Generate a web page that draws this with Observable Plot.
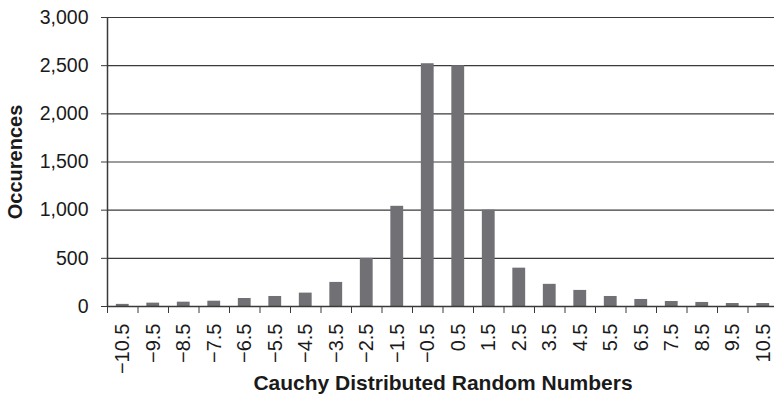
<!DOCTYPE html>
<html><head><meta charset="utf-8">
<script src="https://cdn.jsdelivr.net/npm/d3@7"></script>
<script src="https://cdn.jsdelivr.net/npm/@observablehq/plot@0.6"></script>
<style>
body{margin:0;background:#fff;overflow:hidden;}
svg{font-family:"Liberation Sans",Arial,sans-serif;}
</style></head>
<body><div id="chart"></div>
<script>
const bins = [-10.5,-9.5,-8.5,-7.5,-6.5,-5.5,-4.5,-3.5,-2.5,-1.5,-0.5,0.5,1.5,2.5,3.5,4.5,5.5,6.5,7.5,8.5,9.5,10.5];
const counts = [22,35,45,55,83,104,139,250,500,1040,2520,2500,1000,398,230,167,104,73,52,42,31,31];
const yTicks = [0,500,1000,1500,2000,2500,3000];
const edges = d3.range(-11, 12, 1);
const data = bins.map((b,i)=>({bin:b, count:counts[i]}));
const half = 0.21;
const fmtX = d => (d<0?"\u2212":"") + Math.abs(d).toFixed(1);

const chart = Plot.plot({
  width: 774, height: 400,
  marginLeft: 107, marginRight: -4, marginTop: 17, marginBottom: 94,
  style: {fontSize: "19px", color: "#1a1a1a", background: "#fff", overflow: "hidden"},
  x: {domain: [-11, 11]},
  y: {domain: [0, 3000]},
  marks: [
    Plot.gridY(yTicks, {stroke: "#3a3a3a", strokeOpacity: 1, strokeWidth: 1.2}),
    Plot.rectY(data, {x1: d=>d.bin-half, x2: d=>d.bin+half, y: "count", fill: "#707075"}),
    Plot.ruleY([0], {stroke: "#3a3a3a", strokeWidth: 1.5}),
    Plot.ruleX([-11], {stroke: "#3a3a3a", strokeWidth: 1.5}),
    Plot.axisY({ticks: yTicks, tickFormat: d3.format(","), tickSize: 6, tickPadding: 13, fontSize: 19.5, label: null, stroke:"#3a3a3a"}),
    Plot.axisX({ticks: edges, tickSize: 7, tickFormat: () => "", label: null, stroke:"#3a3a3a"}),
    Plot.axisX({ticks: bins, tickSize: 0, tickPadding: 17, tickRotate: -90, tickFormat: fmtX, fontSize: 20, label: null}),
    Plot.text(["Cauchy Distributed Random Numbers"], {x: 0, frameAnchor: "bottom", lineAnchor: "middle", dy: 77, fontWeight: "bold", fontSize: 21}),
    Plot.text(["Occurences"], {frameAnchor: "left", textAnchor: "middle", lineAnchor: "middle", dx: -92, rotate: -90, fontWeight: "bold", fontSize: 20})
  ]
});
document.getElementById("chart").appendChild(chart);
</script></body></html>
